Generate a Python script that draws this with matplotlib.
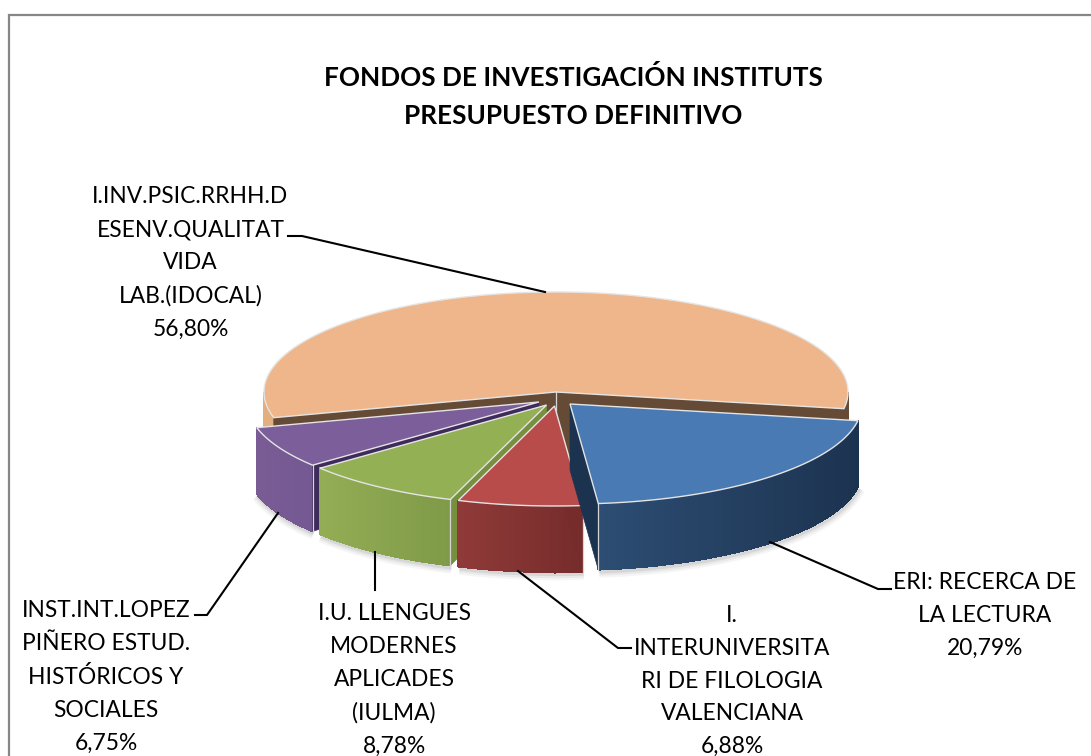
import numpy as np
import matplotlib
matplotlib.use("Agg")
import matplotlib.pyplot as plt
from matplotlib.colors import to_rgb
from matplotlib.patches import Polygon

title = "FONDOS DE INVESTIGACIÓN INSTITUTS\nPRESUPUESTO DEFINITIVO"

names = [
    "ERI: RECERCA DE\nLA LECTURA",
    "I.\nINTERUNIVERSITA\nRI DE FILOLOGIA\nVALENCIANA",
    "I.U. LLENGUES\nMODERNES\nAPLICADES\n(IULMA)",
    "INST.INT.LOPEZ\nPIÑERO ESTUD.\nHISTÓRICOS Y\nSOCIALES",
    "I.INV.PSIC.RRHH.D\nESENV.QUALITAT\nVIDA\nLAB.(IDOCAL)",
]
values = [20.79, 6.88, 8.78, 6.75, 56.80]

# pixel layout of the projected pie
cx, cy = 556, 392
rx, ry = 292, 100
depth = 66
start_angle = -9.6
explode = [(14, 12), (-1.5, 14), (-9.5, 13), (-17, 10), (0, 0)]

top_colors = ["#4a7ab3", "#b84c4a", "#93b055", "#7c5e9a", "#eeb68a"]
wall_left = ["#2d4d73", "#8f3a38", "#93ad55", "#7a5c95", "#e3ae80"]
wall_right = ["#1c3350", "#752c2b", "#7f9a48", "#745891", "#654b35"]
cut_colors = ["#1c3350", "#752c2b", "#76903f", "#3f2a5c", "#654b35"]

label_pos = [(985, 615), (732, 681), (394, 680), (106, 677), (190.5, 263)]
leaders = [
    [(770, 542), (878, 589), (891, 589)],
    [(518, 571), (618, 648), (631, 648)],
    [(375, 552), (375, 590)],
    [(278, 513), (207, 615), (195, 615)],
    [(288, 236), (302, 236), (545, 292)],
]

plt.rcParams["font.family"] = ["Lato", "DejaVu Sans"]

fig = plt.figure(figsize=(10.91, 7.56), dpi=100)
ax = fig.add_axes([0, 0, 1, 1])
ax.set_xlim(0, 1091)
ax.set_ylim(756, 0)
ax.axis("off")


def rim(x0, y0, a0, a1, n=200):
    t = np.radians(np.linspace(a0, a1, n))
    return x0 + rx * np.cos(t), y0 - ry * np.sin(t)


def extrude(xs, ys, color, z):
    pts = list(zip(xs, ys)) + list(zip(xs[::-1], ys[::-1] + depth))
    ax.add_patch(Polygon(pts, closed=True, fc=color, ec=color, lw=0.5, zorder=z))


def gradient_wall(x0, y0, a0, a1, c_left, c_right, z):
    # outer wall, split in narrow quads to get the left to right shading
    xs, ys = rim(x0, y0, a0, a1)
    lo, hi = min(xs), max(xs)
    c0, c1 = np.array(to_rgb(c_left)), np.array(to_rgb(c_right))
    for i in range(len(xs) - 1):
        f = ((xs[i] + xs[i + 1]) / 2 - lo) / max(hi - lo, 1)
        c = c0 + (c1 - c0) * f
        pts = [(xs[i], ys[i]), (xs[i + 1], ys[i + 1]),
               (xs[i + 1], ys[i + 1] + depth), (xs[i], ys[i] + depth)]
        ax.add_patch(Polygon(pts, closed=True, fc=c, ec=c, lw=0.8, antialiased=False, zorder=z))


edges = start_angle - np.cumsum([0] + values) * 3.6

# orange slice goes first, everything else sits in front of it
order = [4, 3, 2, 1, 0]
for k, i in enumerate(order):
    a0, a1 = edges[i], edges[i + 1]
    x0, y0 = cx + explode[i][0], cy + explode[i][1]
    z = 2 + k * 5

    # soft shadow under the front of the slice
    if i != 4:
        sx, sy = rim(x0, y0, a0, a1)
        for lw, alpha in [(9, 0.05), (6, 0.07), (3, 0.10)]:
            ax.plot(sx + 1, sy + depth + 2, color="#404040", lw=lw, alpha=alpha,
                    solid_capstyle="butt", zorder=1)

    xa, ya = rim(x0, y0, a0, a0, 2)
    xb, yb = rim(x0, y0, a1, a1, 2)
    if i == 4:
        # back slice: both inner faces show, and the rim at each side
        gradient_wall(x0, y0, a0, -180, "#e3ae80", "#e3ae80", z)
        gradient_wall(x0, y0, start_angle, 0, "#654b35", "#654b35", z)
        extrude(np.array([x0, xa[0]]), np.array([y0, ya[0]]), cut_colors[i], z + 1)
        extrude(np.array([x0, xb[0]]), np.array([y0, yb[0]]), cut_colors[i], z + 1)
        ax.plot([x0, x0], [y0, y0 + depth], color="#d5d5d5", lw=0.9, zorder=z + 2)
    else:
        gradient_wall(x0, y0, a0, a1, wall_left[i], wall_right[i], z)
        if i == 0:
            extrude(np.array([x0, xb[0]]), np.array([y0, yb[0]]), cut_colors[i], z + 1)
            ax.plot([xb[0], xb[0]], [yb[0], yb[0] + depth], color="#d5d5d5", lw=0.9, zorder=z + 2)
        else:
            extrude(np.array([x0, xa[0]]), np.array([y0, ya[0]]), cut_colors[i], z + 1)
            ax.plot([xa[0], xa[0]], [ya[0], ya[0] + depth], color="#d5d5d5", lw=0.9, zorder=z + 2)

    tx, ty = rim(x0, y0, a0, a1, 200)
    pts = [(x0, y0)] + list(zip(tx, ty))
    ax.add_patch(Polygon(pts, closed=True, fc=top_colors[i], ec="#e4e4e4", lw=1.0,
                         joinstyle="miter", zorder=z + 3))

# chart area border, only top and left fall inside the crop
ax.plot([9, 9, 1091], [756, 15, 15], color="#868686", lw=1.6, zorder=40,
        solid_joinstyle="miter", clip_on=False)

for pts in leaders:
    ax.plot([p[0] for p in pts], [p[1] for p in pts], color="black", lw=1.5, zorder=41)

ax.text(573, 96, title, ha="center", va="center", fontsize=18.8, fontweight="bold",
        linespacing=1.7, color="black", zorder=42)

for name, v, (lx, ly) in zip(names, values, label_pos):
    pct = f"{v:.2f}".replace(".", ",") + "%"
    ax.text(lx, ly, name + "\n" + pct, ha="center", va="center", fontsize=16.4,
            linespacing=1.7, color="black", zorder=42)

fig.savefig("out.png", dpi=100)
